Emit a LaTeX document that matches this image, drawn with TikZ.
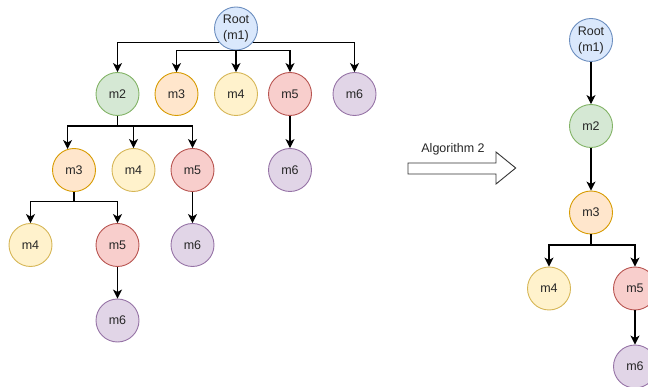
\documentclass[tikz,border=0pt]{standalone}
\usepackage{fontspec}
\setmainfont{Liberation Sans}
\usetikzlibrary{arrows.meta}
\definecolor{blueFill}{HTML}{DAE8FC}   \definecolor{blueLine}{HTML}{6C8EBF}
\definecolor{greenFill}{HTML}{D5E8D4}  \definecolor{greenLine}{HTML}{82B366}
\definecolor{orangeFill}{HTML}{FFE6CC} \definecolor{orangeLine}{HTML}{D79B00}
\definecolor{yellowFill}{HTML}{FFF2CC} \definecolor{yellowLine}{HTML}{D6B656}
\definecolor{redFill}{HTML}{F8CECC}    \definecolor{redLine}{HTML}{B85450}
\definecolor{purpleFill}{HTML}{E1D5E7} \definecolor{purpleLine}{HTML}{9673A6}
\tikzset{
  mod/.style = {circle, fill=#1Fill, draw=#1Line, minimum size=43pt,
                inner sep=0pt, line width=0.9pt, align=center, text=black!85,
                font=\fontsize{12.5}{16}\selectfont},
  mod/.default = blue,
  link/.style = {-{Stealth[length=9pt, width=9pt, inset=2.5pt]}, line width=1.1pt},
  stem/.style = {line width=1.1pt}
}

\begin{document}
\begin{tikzpicture}[x=1pt, y=-1pt]
	\useasboundingbox (0,0) rectangle (648,387);
	\def \rA{94}
	\def \rB{170}
	\def \rC{245}
	
	% Left tree
	\node[mod=blue]   (t1) at (236,28.5) {Root\\(m1)};
	\node[mod=green]  (t2) at (117.5,\rA) {m2};
	\node[mod=orange] (t3) at (176.5,\rA) {m3};
	\node[mod=yellow] (t4) at (236,\rA) {m4};
	\node[mod=red]    (t5) at (290,\rA) {m5};
	\node[mod=purple] (t6) at (354.5,\rA) {m6};
	
	\node[mod=orange] (t23) at (74,\rB) {m3};
	\node[mod=yellow] (t24) at (133.5,\rB) {m4};
	\node[mod=red]    (t25) at (192.5,\rB) {m5};
	\node[mod=purple] (t56) at (290,\rB) {m6};
	
	\node[mod=yellow] (t234) at (30.5,\rC) {m4};
	\node[mod=red]    (t235) at (117.5,\rC) {m5};
	\node[mod=purple] (t256) at (192.5,\rC) {m6};
	\node[mod=purple] (t2356) at (117.5,320.5) {m6};
	
	\coordinate (j2) at (117.5,126);
	\coordinate (j23) at (74,201.7);
	
	\draw[link] (t1.221) -| (t2);
	\draw[link] (t1.319) -| (t6);
	\draw[link] (t1.south) -| (t3);
	\draw[link] (t1.south) -| (t5);
	\draw[link] (t1) -- (t4);
	
	\draw[stem] (t2) -- (j2);
	\draw[link] (j2) -| (t23.107);
	\draw[link] (j2) -| (t24);
	\draw[link] (j2) -| (t25);
	\draw[link] (t5) -- (t56);
	
	\draw[stem] (t23) -- (j23);
	\draw[link] (j23) -| (t234);
	\draw[link] (j23) -| (t235);
	\draw[link] (t25) -- (t256);
	\draw[link] (t235) -- (t2356);
	
	% Algorithm arrow
	\draw[black!80, line width=0.9pt, fill=white] (408,163) -- (496,163) -- (496,152)
		-- (515.7,168) -- (496,184) -- (496,174) -- (408,174) -- cycle;
	\node[font=\fontsize{12.5}{15}\selectfont, text=black!85] (algo) at (453,149) {Algorithm 2};
	
	% Right tree
	\node[mod=blue]   (s1) at (591,40) {Root\\(m1)};
	\node[mod=green]  (s2) at (591,126) {m2};
	\node[mod=orange] (s3) at (591,212.5) {m3};
	\node[mod=yellow] (s4) at (549,288.5) {m4};
	\node[mod=red]    (s5) at (635,288.5) {m5};
	\node[mod=purple] (s6) at (635,366.5) {m6};
	
	\coordinate (j3) at (591,245);
	
	\draw[link] (s1) -- (s2);
	\draw[link] (s2) -- (s3);
	\draw[stem] (s3) -- (j3);
	\draw[link] (j3) -| (s4);
	\draw[link] (j3) -| (s5);
	\draw[link] (s5) -- (s6);
	
\end{tikzpicture}
\end{document}
